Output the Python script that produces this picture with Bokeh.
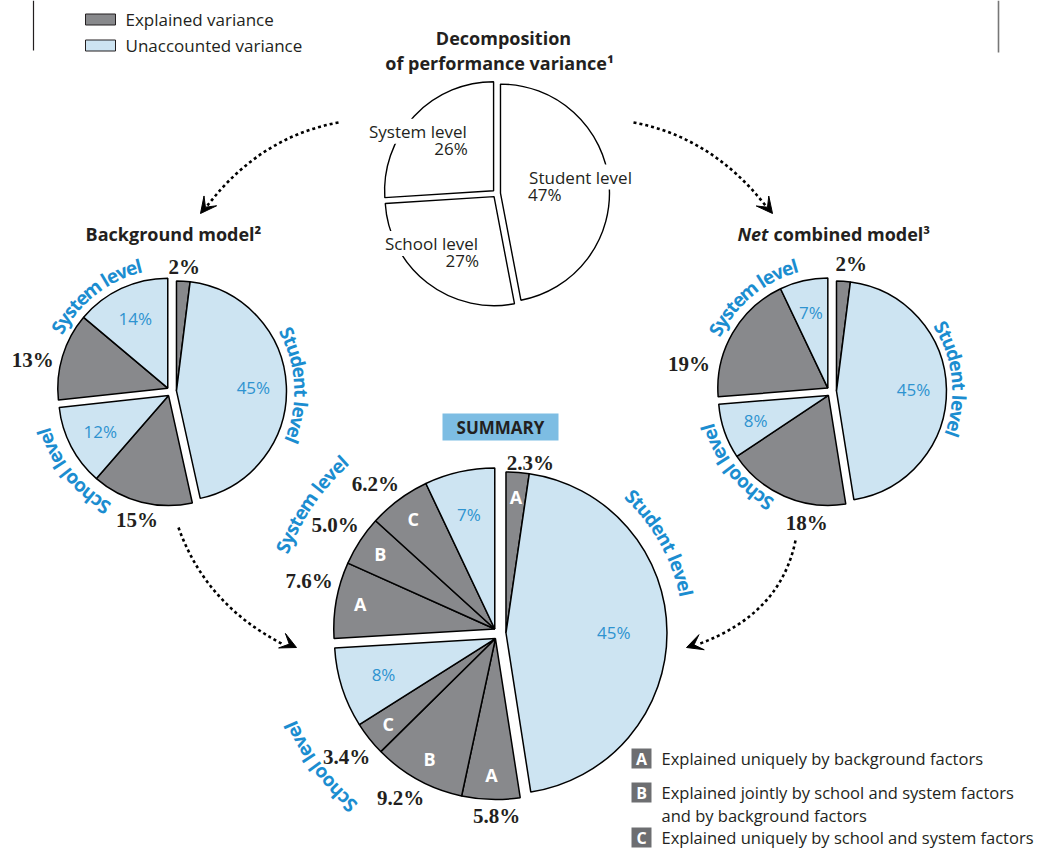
import math
from bokeh.plotting import figure
from bokeh.models import ColumnDataSource, Range1d, Arrow, VeeHead
from bokeh.core.properties import value
from bokeh.embed import file_html
from bokeh.resources import INLINE

# ---------------- data ----------------
top_levels = ["Student level", "School level", "System level"]
top_values = [47, 27, 26]

slice_levels = ["Student", "Student", "School", "School", "System", "System"]
slice_kinds = ["Explained", "Unaccounted", "Explained", "Unaccounted", "Explained", "Unaccounted"]
background_values = [2, 45, 15, 12, 13, 14]
net_values = [2, 45, 18, 8, 19, 7]

summary_levels = ["Student", "Student", "School", "School", "School", "School",
                  "System", "System", "System", "System"]
summary_kinds = ["Explained", "Unaccounted", "Explained", "Explained", "Explained", "Unaccounted",
                 "Explained", "Explained", "Explained", "Unaccounted"]
summary_parts = ["A", "", "A", "B", "C", "", "A", "B", "C", ""]
summary_values = [2.3, 45, 5.8, 9.2, 3.4, 8, 7.6, 5.0, 6.2, 7]

legend_kinds = ["Explained variance", "Unaccounted variance"]
part_codes = ["A", "B", "C"]
part_texts = [["Explained uniquely by background factors"],
              ["Explained jointly by school and system factors", "and by background factors"],
              ["Explained uniquely by school and system factors"]]
level_names = {"Student": "Student level", "School": "School level", "System": "System level"}

# ---------------- style ----------------
SANS = value("Open Sans")
SERIF = value("Liberation Serif")
INK = "#231f20"
EXPL = "#88898c"
UNAC = "#cde4f2"
BLUE = "#1b8dd0"
BLUE_IN = "#2e93d0"
KIND_FILL = {"Explained": EXPL, "Unaccounted": UNAC}

W, H = 1047, 848
p = figure(width=W, height=H, x_range=Range1d(0, W), y_range=Range1d(-H, 0),
           output_backend="svg", toolbar_location=None, x_axis_location=None,
           y_axis_location=None, min_border=0, outline_line_color=None, title=None)
p.grid.visible = False
p.background_fill_color = "white"
p.border_fill_color = "white"


def Y(y):
    return -y


def pie_geometry(values, levels, cx, cy, explode):
    total = float(sum(values))
    cum, starts, ends = 0.0, [], []
    for v in values:
        starts.append(cum)
        cum += v
        ends.append(cum)
    groups = {}
    for lv, s, e in zip(levels, starts, ends):
        g = groups.setdefault(lv, [s, e])
        g[0] = min(g[0], s)
        g[1] = max(g[1], e)
    out = []
    for v, lv, s, e in zip(values, levels, starts, ends):
        gs, ge = groups[lv]
        gmid = math.radians(90 - 360 * (gs + ge) / 2 / total)
        ox = cx + explode * math.cos(gmid)
        oy = Y(cy) + explode * math.sin(gmid)
        a0 = math.radians(90 - 360 * e / total)
        a1 = math.radians(90 - 360 * s / total)
        out.append(dict(x=ox, y=oy, start=a0, end=a1, mid=(a0 + a1) / 2))
    return out


def draw_wedges(geo, R, fills, lw=1.5):
    src = ColumnDataSource(dict(x=[g["x"] for g in geo], y=[g["y"] for g in geo],
                                start=[g["start"] for g in geo], end=[g["end"] for g in geo],
                                fill=fills))
    p.wedge(x="x", y="y", radius=R, start_angle="start", end_angle="end",
            direction="anticlock", fill_color="fill", line_color="black",
            line_width=lw, source=src)


def text(x, y, t, size, color=INK, style="normal", font=SANS, align="center",
         baseline="middle", angle=0.0, bg=None):
    kw = {}
    if bg is not None:
        kw = dict(background_fill_color=bg, padding=1)
    p.text(x=[x], y=[y], text=[t], angle=angle, text_font=font, text_font_style=style,
           text_font_size=f"{size}px", text_color=color, text_align=align,
           text_baseline=baseline, **kw)


def serif_width(t, size):
    w = 0.0
    for ch in t:
        w += 1.0 if ch == "%" else (0.25 if ch == "." else 0.5)
    return w * size


def outside_label(g, R, t, gap, size=21, nudge=0.0):
    w = serif_width(t, size)
    h = 0.7 * size
    a = g["mid"] + math.radians(nudge)
    c, s = math.cos(a), math.sin(a)
    r = R + gap + 0.5 * w * abs(c) + 0.5 * h * abs(s)
    text(g["x"] + r * c, g["y"] + r * s, t, size, INK, "bold", SERIF)


def inside_label(g, R, frac, t, size, color, style="normal"):
    c, s = math.cos(g["mid"]), math.sin(g["mid"])
    text(g["x"] + frac * R * c, g["y"] + frac * R * s, t, size, color, style)


BOLD_W = {"S": 0.56, "y": 0.56, "s": 0.49, "t": 0.42, "e": 0.59, "m": 0.94, " ": 0.26,
          "l": 0.30, "v": 0.56, "u": 0.66, "d": 0.64, "n": 0.66, "c": 0.51, "h": 0.66, "o": 0.62}


def curved(cx, cy, rc, ang_deg, t, size=19, color=BLUE):
    widths = [BOLD_W.get(ch, 0.58) * size for ch in t]
    L = sum(widths)
    rb = rc - 0.33 * size
    th0 = math.radians(ang_deg) + (L / 2) / rc
    xs, ys, angs, chars = [], [], [], []
    s = 0.0
    for ch, w in zip(t, widths):
        th = th0 - (s + w / 2) / rc
        s += w
        if ch == " ":
            continue
        xs.append(cx + rb * math.cos(th))
        ys.append(Y(cy) + rb * math.sin(th))
        angs.append(th - math.pi / 2)
        chars.append(ch)
    p.text(x=xs, y=ys, text=chars, angle=angs, text_font=SANS, text_font_style="bold",
           text_font_size=f"{size}px", text_color=color, text_align="center",
           text_baseline="alphabetic")


# ---------------- top pie ----------------
TOP_C, TOP_R = (496, 193), 109
top_geo = pie_geometry(top_values, top_levels, TOP_C[0], TOP_C[1], 4)
draw_wedges(top_geo, TOP_R, ["white"] * 3, 1.4)
top_nudge = [0, -12, 6]
top_half = [57, 50, 42]
for g, name, v, nd, half in zip(top_geo, top_levels, top_values, top_nudge, top_half):
    a = g["mid"] + math.radians(nd)
    bx = g["x"] + 0.78 * TOP_R * math.cos(a)
    by = g["y"] + 0.78 * TOP_R * math.sin(a)
    if math.cos(a) < 0:
        ax, al = bx + half, "right"
    else:
        ax, al = bx - half, "left"
    text(ax, by + 8, name, 17, INK, "normal", SANS, al, bg="white")
    text(ax, by - 9, f"{v}%", 17, INK, "normal", SANS, al)

text(503, Y(37), "Decomposition", 18, INK, "bold")
text(499, Y(62), "of performance variance\u00b9", 18, INK, "bold")

# ---------------- background & net pies ----------------
SIDE_R = 110
for vals, (cx, cy), gap, nudges, curv in [
        (background_values, (171, 391), 6, [0, 0, 0, 0, 5, 0],
         [("System", 128, 136), ("Student", 3, 136), ("School", -141, 140)]),
        (net_values, (831, 391), 9, [-3, 0, 14, 0, 20, 0],
         [("System", 129.6, 137), ("Student", 6, 134), ("School", -141.5, 135)])]:
    geo = pie_geometry(vals, slice_levels, cx, cy, 5)
    draw_wedges(geo, SIDE_R, [KIND_FILL[k] for k in slice_kinds])
    for g, k, v, nd in zip(geo, slice_kinds, vals, nudges):
        if k == "Explained":
            outside_label(g, SIDE_R, f"{v:g}%", gap, nudge=nd)
        else:
            inside_label(g, SIDE_R, 0.70, f"{v:g}%", 17, BLUE_IN)
    for lv, ang, rc in curv:
        curved(cx, cy, rc, ang, level_names[lv])

text(173, Y(233), "Background model\u00b2", 18, INK, "bold")
text(768, Y(233), "Net", 18, INK, "bold italic", SANS, "right")
text(773, Y(233), "combined model\u00b3", 18, INK, "bold", SANS, "left")

# ---------------- summary pie ----------------
SUM_C, SUM_R = (499, 633), 161
sum_geo = pie_geometry(summary_values, summary_levels, SUM_C[0], SUM_C[1], 6.5)
draw_wedges(sum_geo, SUM_R, [KIND_FILL[k] for k in summary_kinds])
sum_nudge = [-4, 0, 2, -2, 0, 0, -4, 0, 3, 0]
sum_gap = [0, 0, 9, 6, 6, 0, 6, 6, 6, 0]
sum_inner = [0.85, 0.67, 0.85, 0.85, 0.85, 0.73, 0.85, 0.85, 0.85, 0.73]
for g, k, v, part, nd, gp, fr in zip(sum_geo, summary_kinds, summary_values, summary_parts,
                                     sum_nudge, sum_gap, sum_inner):
    if k == "Explained":
        outside_label(g, SUM_R, f"{v:.1f}%", gp, nudge=nd)
        inside_label(g, SUM_R, fr, part, 18, "white", "bold")
    else:
        inside_label(g, SUM_R, fr, f"{v:g}%", 17, BLUE_IN)
for lv, ang, rc in [("System", 145.5, 239), ("Student", 29.4, 197), ("School", -143.4, 234)]:
    curved(SUM_C[0], SUM_C[1], rc, ang, level_names[lv])

p.quad(left=[442], right=[558], top=[Y(413)], bottom=[Y(440)], fill_color="#7dbde3",
       line_color=None)
text(500, Y(427), "SUMMARY", 17, INK, "bold")

# ---------------- dotted arrows ----------------
arrows = [((338, 122), (259.5, 136.5), (207, 205), (200, 213)),
          ((633, 122), (711, 136.5), (765, 205), (772, 213)),
          ((178, 527), (205.5, 604.5), (283, 644), (296, 647)),
          ((795, 540), (780, 614), (697, 644), (686, 647))]
for s0, c0, e0, tip in arrows:
    p.quadratic(x0=[s0[0]], y0=[Y(s0[1])], x1=[e0[0]], y1=[Y(e0[1])],
                cx=[c0[0]], cy=[Y(c0[1])], line_color="black", line_width=2.6,
                line_dash="3 3")
    p.add_layout(Arrow(end=VeeHead(size=16, fill_color="black", line_color="black"),
                       x_start=c0[0], y_start=Y(c0[1]), x_end=tip[0], y_end=Y(tip[1]),
                       line_alpha=0))

# ---------------- frame ticks ----------------
p.segment(x0=[33], y0=[Y(0)], x1=[33], y1=[Y(50)], line_color=INK, line_width=1.2)
p.segment(x0=[998], y0=[Y(0)], x1=[998], y1=[Y(52)], line_color="#777777", line_width=1.6)

# ---------------- legends ----------------
for i, (k, fill) in enumerate(zip(legend_kinds, [EXPL, UNAC])):
    yc = 19 + 26 * i
    p.quad(left=[85], right=[115], top=[Y(yc - 5.5)], bottom=[Y(yc + 5.5)],
           fill_color=fill, line_color=INK, line_width=1)
    text(125, Y(yc), k, 17, INK, "normal", SANS, "left")

row_y = [758, 792, 837]
for code, lines, yc in zip(part_codes, part_texts, row_y):
    p.quad(left=[631], right=[651], top=[Y(yc - 10)], bottom=[Y(yc + 10)],
           fill_color="#6d6e71", line_color=None)
    text(641, Y(yc), code, 16, "white", "bold")
    for j, ln in enumerate(lines):
        text(661, Y(yc + 23 * j), ln, 16.5, INK, "normal", SANS, "left")

open("out.html", "w").write(file_html(p, INLINE))
